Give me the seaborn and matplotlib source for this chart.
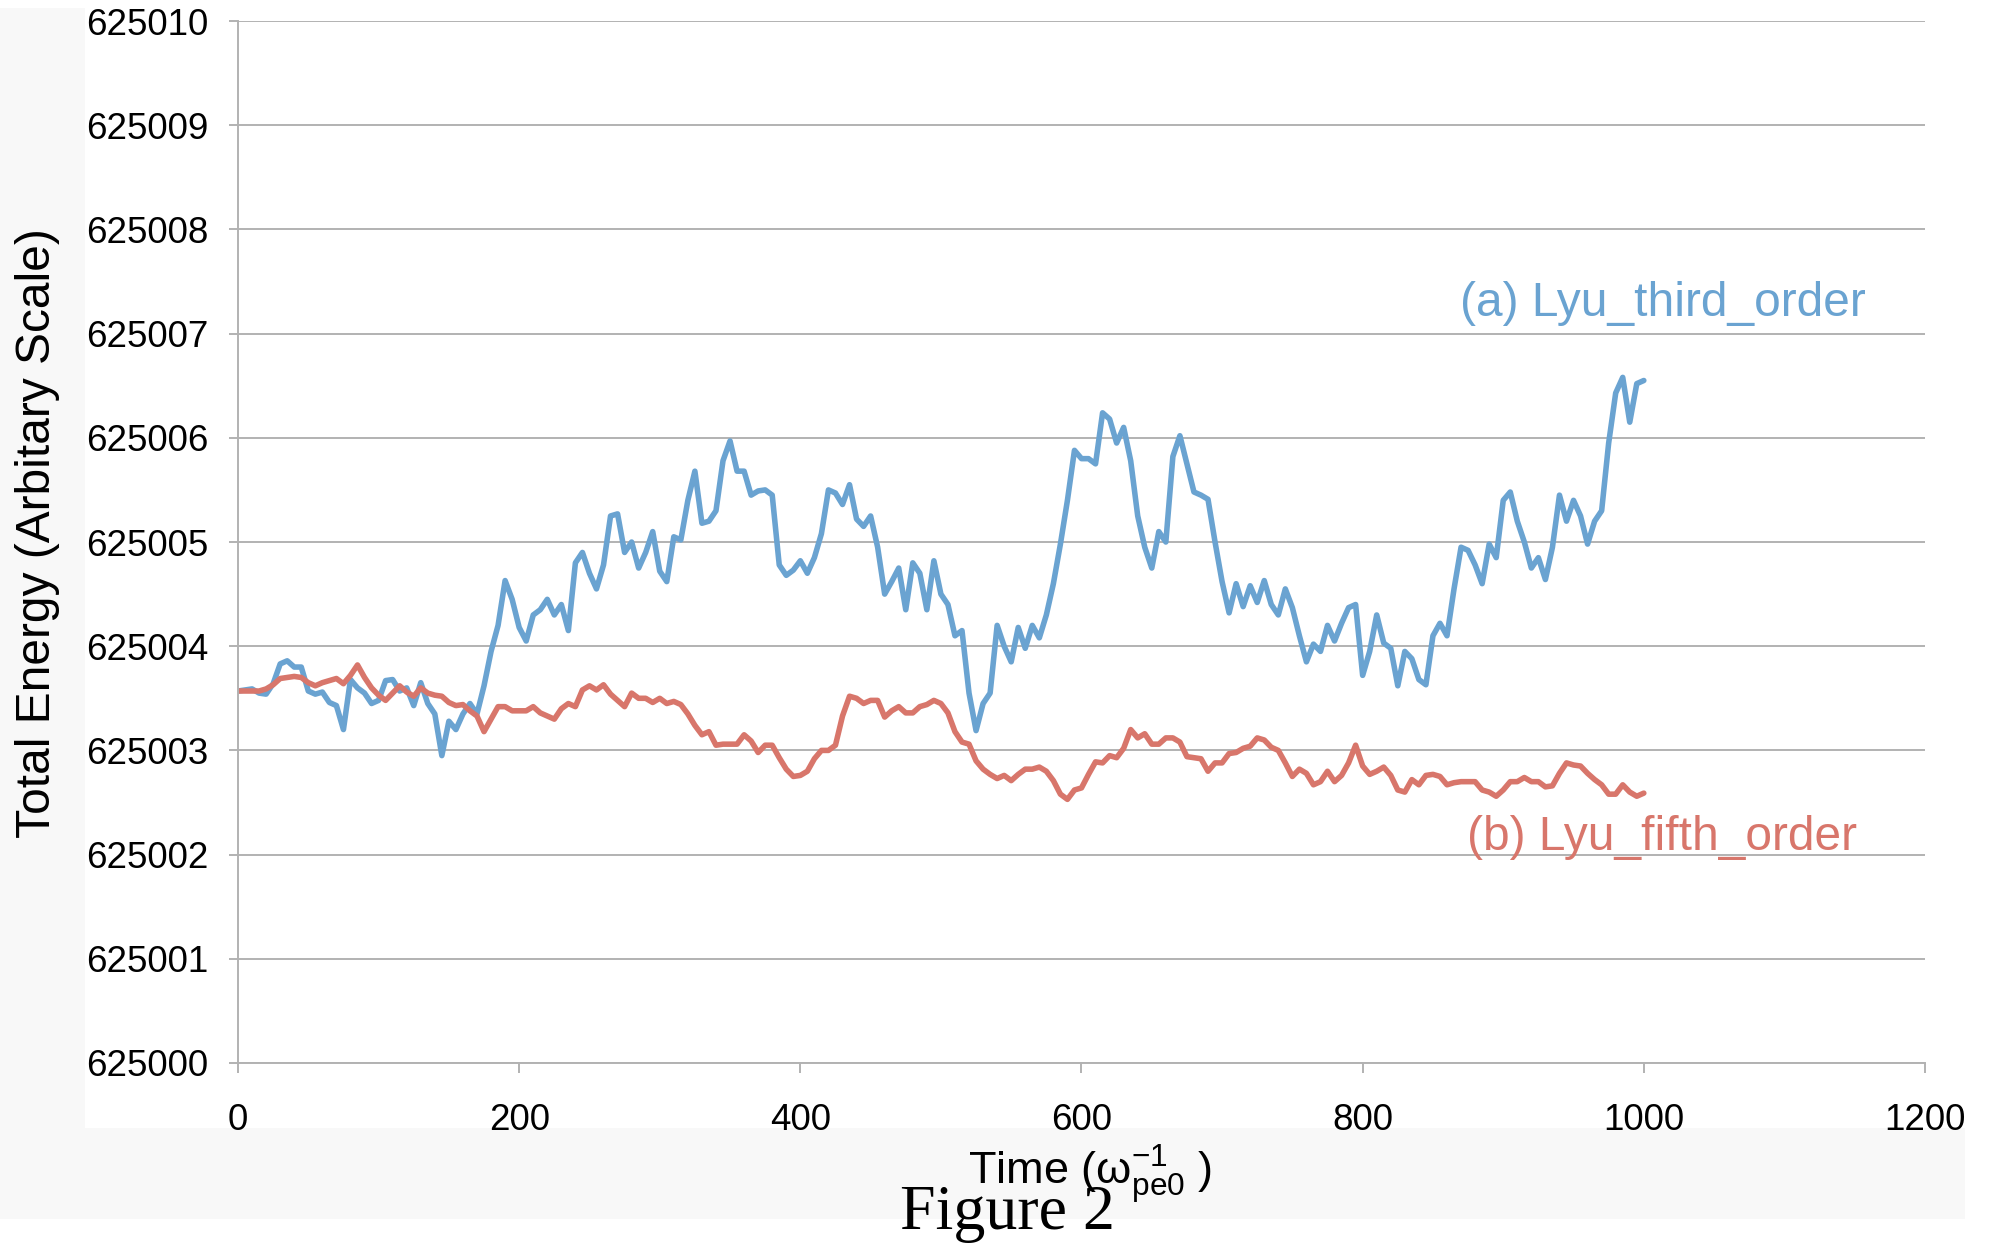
import matplotlib
matplotlib.use("Agg")
import matplotlib.pyplot as plt
from matplotlib.patches import Rectangle
import seaborn as sns
import pandas as pd

# Data (time step 5)
time = list(range(0, 1001, 5))

third_order = [
    625003.57, 625003.58, 625003.59, 625003.55, 625003.54, 625003.64, 625003.83, 625003.86, 625003.80, 625003.80,
    625003.57, 625003.54, 625003.56, 625003.46, 625003.43, 625003.20, 625003.68, 625003.60, 625003.55, 625003.45,
    625003.48, 625003.67, 625003.68, 625003.57, 625003.60, 625003.43, 625003.65, 625003.45, 625003.35, 625002.95,
    625003.28, 625003.20, 625003.35, 625003.45, 625003.35, 625003.62, 625003.95, 625004.20, 625004.63, 625004.45,
    625004.18, 625004.05, 625004.30, 625004.35, 625004.45, 625004.30, 625004.40, 625004.15, 625004.80, 625004.90,
    625004.70, 625004.55, 625004.78, 625005.25, 625005.27, 625004.90, 625005.00, 625004.75, 625004.90, 625005.10,
    625004.72, 625004.62, 625005.05, 625005.02, 625005.40, 625005.68, 625005.18, 625005.20, 625005.30, 625005.78,
    625005.97, 625005.68, 625005.68, 625005.45, 625005.49, 625005.50, 625005.45, 625004.78, 625004.68, 625004.73,
    625004.82, 625004.70, 625004.85, 625005.08, 625005.50, 625005.47, 625005.36, 625005.55, 625005.22, 625005.15,
    625005.25, 625004.95, 625004.50, 625004.62, 625004.75, 625004.35, 625004.80, 625004.70, 625004.35, 625004.82,
    625004.50, 625004.40, 625004.10, 625004.15, 625003.55, 625003.19, 625003.45, 625003.55, 625004.20, 625004.00,
    625003.85, 625004.18, 625003.98, 625004.20, 625004.08, 625004.30, 625004.60, 625004.98, 625005.40, 625005.88,
    625005.80, 625005.80, 625005.75, 625006.24, 625006.18, 625005.95, 625006.10, 625005.78, 625005.25, 625004.95,
    625004.75, 625005.10, 625005.00, 625005.82, 625006.02, 625005.75, 625005.48, 625005.45, 625005.41, 625005.00,
    625004.62, 625004.32, 625004.60, 625004.38, 625004.58, 625004.42, 625004.63, 625004.40, 625004.30, 625004.55,
    625004.37, 625004.10, 625003.85, 625004.02, 625003.95, 625004.20, 625004.05, 625004.22, 625004.37, 625004.40,
    625003.72, 625003.95, 625004.30, 625004.03, 625003.98, 625003.62, 625003.95, 625003.88, 625003.68, 625003.63,
    625004.10, 625004.22, 625004.10, 625004.55, 625004.95, 625004.92, 625004.78, 625004.60, 625004.98, 625004.85,
    625005.40, 625005.48, 625005.20, 625005.00, 625004.75, 625004.85, 625004.64, 625004.95, 625005.45, 625005.20,
    625005.40, 625005.25, 625004.98, 625005.20, 625005.30, 625005.95, 625006.43, 625006.58, 625006.15, 625006.52,
    625006.55,
]

fifth_order = [
    625003.57, 625003.57, 625003.57, 625003.57, 625003.59, 625003.63, 625003.69, 625003.70, 625003.71, 625003.70,
    625003.65, 625003.62, 625003.65, 625003.67, 625003.69, 625003.64, 625003.72, 625003.82, 625003.70, 625003.60,
    625003.53, 625003.48, 625003.55, 625003.62, 625003.56, 625003.52, 625003.60, 625003.55, 625003.53, 625003.52,
    625003.46, 625003.43, 625003.44, 625003.38, 625003.33, 625003.18, 625003.30, 625003.42, 625003.42, 625003.38,
    625003.38, 625003.38, 625003.42, 625003.36, 625003.33, 625003.30, 625003.40, 625003.45, 625003.42, 625003.58,
    625003.62, 625003.58, 625003.63, 625003.54, 625003.48, 625003.42, 625003.55, 625003.50, 625003.50, 625003.46,
    625003.50, 625003.45, 625003.47, 625003.44, 625003.35, 625003.24, 625003.15, 625003.18, 625003.05, 625003.06,
    625003.06, 625003.06, 625003.15, 625003.09, 625002.98, 625003.05, 625003.05, 625002.93, 625002.82, 625002.75,
    625002.76, 625002.80, 625002.92, 625003.00, 625003.00, 625003.05, 625003.33, 625003.52, 625003.50, 625003.45,
    625003.48, 625003.48, 625003.32, 625003.38, 625003.42, 625003.36, 625003.36, 625003.42, 625003.44, 625003.48,
    625003.45, 625003.36, 625003.18, 625003.08, 625003.06, 625002.90, 625002.82, 625002.77, 625002.73, 625002.76,
    625002.71, 625002.77, 625002.82, 625002.82, 625002.84, 625002.80, 625002.71, 625002.58, 625002.53, 625002.62,
    625002.64, 625002.77, 625002.89, 625002.88, 625002.95, 625002.93, 625003.02, 625003.20, 625003.12, 625003.16,
    625003.06, 625003.06, 625003.12, 625003.12, 625003.08, 625002.94, 625002.93, 625002.92, 625002.80, 625002.88,
    625002.88, 625002.97, 625002.98, 625003.02, 625003.04, 625003.12, 625003.10, 625003.03, 625003.00, 625002.88,
    625002.75, 625002.82, 625002.78, 625002.67, 625002.70, 625002.80, 625002.70, 625002.76, 625002.88, 625003.05,
    625002.85, 625002.77, 625002.80, 625002.84, 625002.76, 625002.62, 625002.60, 625002.72, 625002.67, 625002.76,
    625002.77, 625002.75, 625002.67, 625002.69, 625002.70, 625002.70, 625002.70, 625002.62, 625002.60, 625002.56,
    625002.62, 625002.70, 625002.70, 625002.74, 625002.70, 625002.70, 625002.65, 625002.66, 625002.78, 625002.88,
    625002.86, 625002.85, 625002.78, 625002.72, 625002.67, 625002.58, 625002.58, 625002.67, 625002.60, 625002.56,
    625002.59,
]

series_names = ["(a) Lyu_third_order", "(b) Lyu_fifth_order"]
x_ticks = [0, 200, 400, 600, 800, 1000, 1200]
y_ticks = [625000, 625001, 625002, 625003, 625004, 625005, 625006, 625007, 625008, 625009, 625010]

# long form table for seaborn
df = pd.DataFrame({
    "Time": time + time,
    "Energy": third_order + fifth_order,
    "Series": [series_names[0]] * len(time) + [series_names[1]] * len(time),
})

blue = "#6aa3d1"
red = "#d8766b"
palette = {series_names[0]: blue, series_names[1]: red}
grid_gray = "#b2b2b2"

sns.set_theme(style="white")
plt.rcParams["font.family"] = ["Liberation Sans", "DejaVu Sans"]
plt.rcParams["mathtext.fontset"] = "custom"
plt.rcParams["mathtext.rm"] = "Liberation Sans"
plt.rcParams["mathtext.it"] = "Liberation Sans:italic"

fig = plt.figure(figsize=(19.95, 12.44), dpi=100, facecolor="white")

# light gray page strips (left and bottom)
strip = "#f8f8f8"
fig.patches.append(Rectangle((0, 0.0201), 0.0426, 0.9735, transform=fig.transFigure,
                             facecolor=strip, edgecolor="none", zorder=-10))
fig.patches.append(Rectangle((0, 0.0201), 0.985, 0.0731, transform=fig.transFigure,
                             facecolor=strip, edgecolor="none", zorder=-10))

ax = fig.add_axes([0.1193, 0.1455, 0.8456, 0.8376])
ax.set_facecolor("white")

sns.lineplot(data=df, x="Time", y="Energy", hue="Series", palette=palette,
             linewidth=4.0, legend=False, sort=False, ax=ax)

ax.set_xlim(0, 1200)
ax.set_ylim(625000, 625010)
ax.set_xticks(x_ticks)
ax.set_xticklabels([str(v) for v in x_ticks])
ax.set_yticks(y_ticks)
ax.set_yticklabels([str(v) for v in y_ticks])

ax.yaxis.grid(True, color=grid_gray, linewidth=1.4)
ax.xaxis.grid(False)
ax.set_axisbelow(True)
for s in ["top", "right"]:
    ax.spines[s].set_visible(False)
for s in ["left", "bottom"]:
    ax.spines[s].set_color(grid_gray)
    ax.spines[s].set_linewidth(1.4)

ax.tick_params(axis="both", bottom=True, left=True, direction="out", color=grid_gray,
               width=1.4, labelsize=26.5, labelcolor="black")
ax.tick_params(axis="x", length=7, pad=22)
ax.tick_params(axis="y", length=6.5, pad=15)
ax.set_xlabel("")
ax.set_ylabel("")

# series labels
ax.text(869, 625007.29, series_names[0], color=blue, fontsize=34.5, ha="left", va="center")
ax.text(874, 625002.16, series_names[1], color=red, fontsize=34.5, ha="left", va="center")

# axis titles and caption
fig.text(0.019, 0.5715, "Total Energy (Arbitary Scale)", rotation=90,
         ha="center", va="center", fontsize=34.5, color="black")
fig.text(0.5465, 0.0555, "Time (ω$^{-1}_{\\mathrm{pe0}}$ )",
         ha="center", va="center", fontsize=32.5, color="black")
fig.text(0.505, 0.012, "Figure 2", family=["Liberation Serif", "DejaVu Serif"],
         ha="center", va="baseline", fontsize=46, color="black")

fig.savefig("out.png", dpi=100)
